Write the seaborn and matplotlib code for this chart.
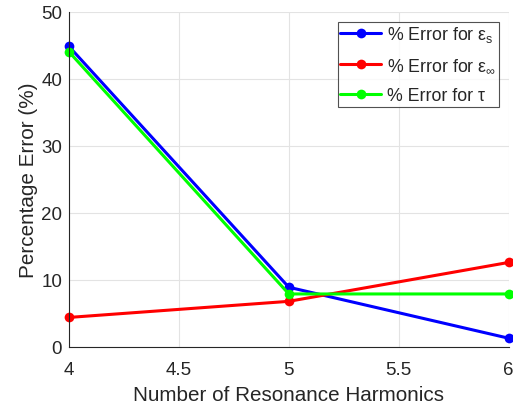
import matplotlib
matplotlib.use("Agg")
import matplotlib.pyplot as plt
import seaborn as sns
import pandas as pd

harmonics = [4, 5, 6]
err_eps_s = [44.8, 8.9, 1.3]
err_eps_inf = [4.4, 6.8, 12.6]
err_tau = [44.0, 7.9, 7.9]
labels = ["% Error for ε$_\\mathregular{s}$",
          "% Error for ε$_\\infty$",
          "% Error for τ"]
colors = ["#0000ff", "#ff0000", "#00ff00"]

df = pd.DataFrame({
    "x": harmonics * 3,
    "y": err_eps_s + err_eps_inf + err_tau,
    "series": [labels[0]] * 3 + [labels[1]] * 3 + [labels[2]] * 3,
})

sns.set_style("white")
plt.rcParams["font.family"] = ["Liberation Sans", "DejaVu Sans"]
plt.rcParams["mathtext.fontset"] = "custom"
plt.rcParams["mathtext.rm"] = "Liberation Sans"
plt.rcParams["mathtext.it"] = "Liberation Sans"

fig = plt.figure(figsize=(5.13, 4.06), dpi=100)
ax = fig.add_axes([0.1345, 0.143, 0.857, 0.826])

sns.lineplot(data=df, x="x", y="y", hue="series", palette=colors,
             marker="o", markersize=7, markeredgewidth=0, linewidth=2.2,
             ax=ax, clip_on=False)

ax.set_xlim(4, 6)
ax.set_ylim(0, 50)
ax.set_xticks([4, 4.5, 5, 5.5, 6])
ax.set_xticklabels(["4", "4.5", "5", "5.5", "6"])
ax.set_yticks([0, 10, 20, 30, 40, 50])
ax.grid(True, color="#e3e3e3", linewidth=0.8)
ax.set_axisbelow(True)
for s in ["top", "right"]:
    ax.spines[s].set_visible(False)
for s in ["left", "bottom"]:
    ax.spines[s].set_color("#262626")
    ax.spines[s].set_linewidth(0.8)
ax.tick_params(direction="in", length=4, width=0.6, colors="#262626",
               labelsize=13.5)
ax.tick_params(axis="x", pad=10)
ax.tick_params(axis="y", pad=5)
ax.set_xlabel("Number of Resonance Harmonics", fontsize=14.9, color="#262626", labelpad=5)
ax.set_ylabel("Percentage Error (%)", fontsize=14.9, color="#262626", labelpad=2)

leg = ax.legend(loc="upper right", bbox_to_anchor=(0.977, 0.97), borderaxespad=0,
                fontsize=12.8, frameon=True, fancybox=False, edgecolor="#262626",
                handlelength=2.3, borderpad=0.15, labelspacing=0.7,
                handletextpad=0.3)
leg.get_frame().set_linewidth(0.8)

fig.savefig("out.png", dpi=100)
